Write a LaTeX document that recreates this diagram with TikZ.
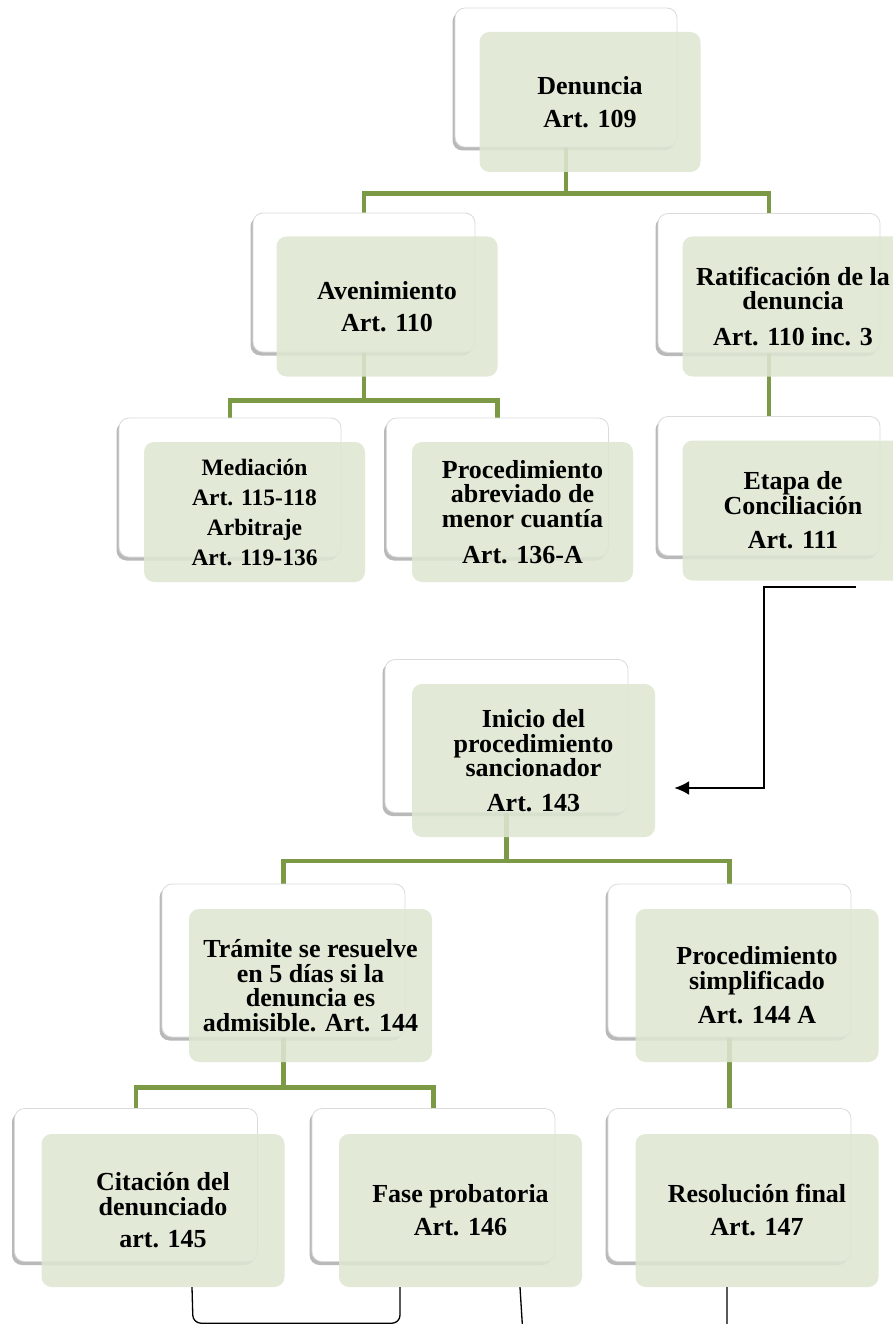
\documentclass[tikz,border=0pt]{standalone}
\usepackage{fontspec}
\setmainfont{Liberation Serif}
\usetikzlibrary{shadows,arrows.meta}
\definecolor{lineGreen}{RGB}{124,154,70}
\definecolor{boxGreen}{RGB}{222,230,210}
\pgfdeclarelayer{bg}
\pgfsetlayers{bg,main}
\newcommand\boxfont{\bfseries\fontsize{26}{24.5}\selectfont}
\newcommand\smallboxfont{\bfseries\fontsize{23.5}{30}\selectfont}
\begin{document}
\begin{tikzpicture}[x=1pt,y=-1pt,
  backbase/.style={draw=black!14, line width=0.8pt, fill=white, rounded corners=10pt, inner sep=0pt,
    drop shadow={shadow xshift=-2.5pt, shadow yshift=-3.5pt, opacity=0.5, fill=black!55}},
  backS/.style={backbase, minimum width=222pt, minimum height=139pt},
  backL/.style={backbase, minimum width=243pt, minimum height=153pt},
  frontbase/.style={fill=boxGreen, fill opacity=0.88, text opacity=1, rounded corners=10pt,
    inner sep=0pt, align=center, font=\boxfont},
  frontS/.style={frontbase, minimum width=221pt, minimum height=140pt},
  frontL/.style={frontbase, minimum width=243pt, minimum height=153pt},
  conn/.style={draw=lineGreen, line width=4.8pt},
  arrowline/.style={draw=black, line width=2pt, -{Latex[length=15pt,width=14pt]}},
  thinline/.style={draw=black, line width=1.3pt, rounded corners=8pt}
]
\useasboundingbox (0,0) rectangle (893,1324);
\clip (0,0) rectangle (893,1324);

\node[backS] (denB) at (566,77.5) {};
\node[frontS] (denF) at (590,102) {Denuncia\\[8.5pt]Art. 109};

\node[backS] (avB) at (364,282.5) {};
\node[frontS] (avF) at (387,306.5) {Avenimiento\\[7.5pt]Art. 110};

\node[backS] (ratB) at (769,283) {};
\node[frontS] (ratF) at (793,306.5) {Ratificación de la\\denuncia\\[11pt]Art. 110 inc. 3};

\node[backS] (medB) at (230,487.5) {};
\node[frontS, font=\smallboxfont] (medF) at (254.5,512) {Mediación\\Art. 115-118\\Arbitraje\\Art. 119-136};

\node[backS] (abrB) at (497.5,487.5) {};
\node[frontS] (abrF) at (522.5,512) {Procedimiento\\abreviado de\\menor cuantía\\[12pt]Art. 136-A};

\node[backS] (etaB) at (769,486) {};
\node[frontS] (etaF) at (793,510.5) {Etapa de\\Conciliación\\[10pt]Art. 111};

\node[backL] (iniB) at (506.5,736) {};
\node[frontL] (iniF) at (533.5,760.5) {Inicio del\\procedimiento\\sancionador\\[10pt]Art. 143};

\node[backL] (traB) at (283.5,960.5) {};
\node[frontL] (traF) at (310.5,985.5) {Trámite se resuelve\\en 5 días si la\\denuncia es\\admisible. Art. 144};

\node[backL] (simB) at (729.5,960.5) {};
\node[frontL] (simF) at (757,985.5) {Procedimiento\\simplificado\\[10pt]Art. 144 A};

\node[backL] (citB) at (136,1185) {};
\node[frontL] (citF) at (163,1210.5) {Citación del\\denunciado\\[8pt]art. 145};

\node[backL] (fasB) at (433.5,1185) {};
\node[frontL] (fasF) at (460.5,1210.5) {Fase probatoria\\[8.5pt]Art. 146};

\node[backL] (resB) at (729.5,1185) {};
\node[frontL] (resF) at (757,1210.5) {Resolución final\\[8.5pt]Art. 147};

\begin{pgfonlayer}{bg}
\draw[conn] (denB.south) -- ++(0,46) -| (avB.north);
\draw[conn] (denB.south) -- ++(0,46) -| (ratB.north);
\draw[conn] (avB.south) -- ++(0,48) -| (medB.north);
\draw[conn] (avB.south) -- ++(0,48) -| (abrB.north);
\draw[conn] (ratB.south) -- (etaB.north);
\draw[conn] (iniB.south) -- ++(0,48) -| (traB.north);
\draw[conn] (iniB.south) -- ++(0,48) -| (simB.north);
\draw[conn] (traB.south) -- ++(0,50) -| (citB.north);
\draw[conn] (traB.south) -- ++(0,50) -| (fasB.north);
\draw[conn] (simB.south) -- (resB.north);
\end{pgfonlayer}

\coordinate (arrStart) at ([shift={(63,6)}]etaF.south);
\coordinate (arrEnd) at ([shift={(19,27.5)}]iniF.east);
\draw[arrowline] (arrStart) -- ++(-92,0) |- (arrEnd);

\draw[thinline] ([xshift=29pt]citF.south) -- ++(1,36) -| ([xshift=-60.5pt]fasF.south);
\draw[thinline] ([xshift=59.5pt]fasF.south) -- ++(3,48) -| ([xshift=-30pt]resF.south);
\end{tikzpicture}
\end{document}
